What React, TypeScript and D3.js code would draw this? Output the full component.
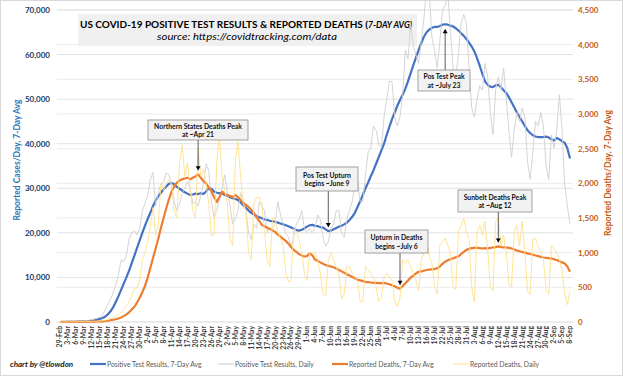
import React from "react";
import * as d3 from "d3";

// Day index 0 = 29-Feb-2020 ... 192 = 8-Sep-2020
const casesAvg: number[] = [
  3,
  10, 15, 25, 35, 45, 60, 80, 100, 130, 170, 220, 300, 400, 520, 700, 900, 1200, 1700, 2400, 3300, 4500, 5800, 7200, 8600, 10000, 11500, 13200, 14900, 16600, 18300, 20000,
  21600, 23100, 24500, 26000, 27200, 28200, 29000, 29800, 30400, 31000, 31200, 30900, 30300, 29900, 29500, 29100, 28800, 28500, 28600, 28800, 28700, 28900, 28700, 29300, 30000, 29900, 29300, 29000, 28900, 28900,
  28500, 28300, 28000, 27800, 27600, 27400, 26800, 26200, 25600, 25000, 24500, 24100, 23800, 23500, 23300, 23000, 22900, 22700, 22600, 22500, 22300, 22100, 21900, 21700, 21500, 21200, 20900, 20600, 20500, 20700, 21000,
  21400, 21700, 21800, 21600, 21500, 21300, 21200, 20800, 20400, 20500, 20800, 21100, 21400, 21600, 21900, 22300, 22900, 23600, 24500, 25800, 27100, 28500, 30000, 31300, 32700, 34000, 35500, 37000, 38500, 40000,
  42000, 43800, 45500, 47000, 48500, 49800, 51000, 52300, 54000, 55800, 57600, 59300, 61000, 62600, 64000, 65000, 65600, 66000, 66200, 66200, 66400, 66700, 66800, 66700, 66500, 66300, 65900, 65400, 64800, 64200, 63500,
  62700, 61800, 60700, 59200, 57500, 55700, 54000, 53200, 52800, 52700, 53100, 53200, 52700, 52000, 51400, 50400, 49300, 48200, 47000, 46000, 45000, 44000, 43000, 42400, 41900, 41600, 41500, 41500, 41500, 41600, 41400,
  41000, 40700, 41300, 41000, 40600, 40200, 39000, 36700,
];

const casesDaily: number[] = [
  5,
  10, 20, 30, 40, 60, 90, 110, 150, 250, 300, 400, 550, 700, 900, 1100, 1600, 2600, 4000, 5200, 6500, 8500, 10500, 14000, 13500, 15000, 18500, 20000, 20500, 19500, 21000, 25000,
  26500, 28500, 32000, 33500, 26000, 29000, 31000, 31500, 33500, 33000, 30500, 27000, 25000, 26500, 29000, 30000, 31500, 30000, 26500, 27000, 26000, 28500, 31000, 35500, 34000, 27000, 23500, 25000, 27500, 30000,
  33000, 29000, 26000, 22000, 23000, 25000, 29000, 27000, 25000, 20000, 18500, 22000, 21000, 27000, 26000, 25000, 20000, 21000, 21000, 22000, 27000, 24000, 22000, 20000, 19000, 17000, 19000, 22000, 23000, 25000, 21000,
  20000, 21000, 20000, 21000, 24000, 23000, 19000, 17000, 18000, 21000, 22000, 25000, 25000, 20000, 19000, 23000, 25000, 27000, 31000, 32000, 27000, 27000, 33000, 38000, 39000, 44000, 43000, 40000, 39000, 46000,
  50000, 54000, 54000, 46000, 44000, 46000, 51000, 61000, 59000, 67000, 62000, 60000, 58000, 63000, 68000, 75000, 74000, 64000, 61000, 57000, 63000, 70000, 71000, 74000, 65000, 57000, 55000, 60000, 67000, 69000, 67000,
  57000, 48000, 46000, 50000, 53000, 52000, 58000, 55000, 47000, 42000, 52000, 55000, 52000, 57000, 50000, 43000, 37000, 43000, 47000, 45000, 48000, 46000, 36000, 32000, 38000, 45000, 44000, 47000, 44000, 35000, 32000,
  42000, 39000, 43000, 51000, 43000, 31000, 26000, 22000,
];

const deathsAvg: number[] = [
  0,
  0, 0, 1, 1, 1, 2, 2, 2, 3, 3, 4, 5, 6, 7, 8, 10, 14, 18, 25, 32, 40, 50, 65, 85, 110, 140, 180, 220, 280, 350, 430,
  520, 640, 780, 920, 1060, 1200, 1360, 1500, 1640, 1770, 1880, 1960, 2010, 2040, 2060, 2070, 2080, 2060, 2080, 2100, 2130, 2080, 2030, 2000, 1940, 1890, 1800, 1730, 1800, 1880,
  1850, 1830, 1820, 1800, 1830, 1800, 1760, 1720, 1690, 1660, 1620, 1570, 1510, 1460, 1400, 1380, 1360, 1340, 1320, 1300, 1260, 1230, 1200, 1170, 1130, 1080, 1040, 1010, 980, 960, 945,
  950, 990, 960, 900, 880, 860, 840, 820, 810, 800, 790, 770, 750, 730, 710, 690, 670, 650, 630, 610, 600, 590, 580, 575, 570, 565, 565, 560, 560, 560,
  555, 545, 530, 515, 495, 480, 520, 560, 600, 640, 670, 700, 725, 730, 740, 750, 755, 760, 765, 775, 800, 840, 870, 890, 905, 920, 935, 945, 980, 1010, 1040,
  1055, 1065, 1070, 1070, 1065, 1060, 1065, 1060, 1070, 1075, 1080, 1090, 1080, 1075, 1075, 1070, 1060, 1045, 1030, 1020, 1010, 1000, 990, 980, 970, 960, 950, 940, 930, 925, 920,
  915, 905, 895, 875, 860, 845, 800, 725,
];

const deathsDaily: number[] = [
  0,
  0, 1, 2, 2, 3, 2, 3, 4, 6, 5, 8, 10, 10, 12, 15, 20, 25, 35, 50, 60, 80, 110, 140, 180, 240, 290, 370, 480, 490, 600, 900,
  1000, 1150, 1400, 1650, 1250, 1400, 2000, 1900, 2000, 2050, 2000, 1600, 1500, 2300, 2550, 2100, 2300, 1900, 1600, 1500, 2500, 2100, 2200, 2000, 1700, 1250, 1250, 2300, 2700, 2100,
  1900, 1700, 1200, 1100, 2300, 2600, 2100, 1700, 1600, 1000, 900, 1700, 1800, 1800, 1700, 1300, 900, 800, 1500, 1500, 1300, 1200, 1100, 700, 580, 600, 1350, 1300, 1200, 1000, 700,
  600, 1000, 1000, 1000, 900, 700, 400, 370, 900, 1000, 900, 800, 700, 330, 400, 800, 800, 700, 650, 600, 290, 300, 800, 750, 700, 650, 500, 300, 350, 650,
  700, 650, 600, 300, 220, 350, 900, 850, 900, 800, 700, 600, 450, 900, 1000, 1200, 950, 850, 500, 400, 1100, 1150, 1210, 1100, 1000, 500, 470, 1300, 1400, 1500, 1300,
  1200, 500, 290, 1300, 1400, 1250, 1450, 1050, 500, 450, 1450, 1500, 1100, 1250, 1000, 550, 500, 1300, 1400, 1100, 1450, 1000, 450, 400, 1200, 1200, 1100, 1000, 900, 450, 400,
  1100, 1050, 1000, 900, 750, 400, 250, 450,
];

const dateLabels: string[] = [
  "29-Feb", "3-Mar", "6-Mar", "9-Mar", "12-Mar", "15-Mar", "18-Mar", "21-Mar", "24-Mar", "27-Mar", "30-Mar",
  "2-Apr", "5-Apr", "8-Apr", "11-Apr", "14-Apr", "17-Apr", "20-Apr", "23-Apr", "26-Apr", "29-Apr",
  "2-May", "5-May", "8-May", "11-May", "14-May", "17-May", "20-May", "23-May", "26-May", "29-May",
  "1-Jun", "4-Jun", "7-Jun", "10-Jun", "13-Jun", "16-Jun", "19-Jun", "22-Jun", "25-Jun", "28-Jun",
  "1-Jul", "4-Jul", "7-Jul", "10-Jul", "13-Jul", "16-Jul", "19-Jul", "22-Jul", "25-Jul", "28-Jul", "31-Jul",
  "3-Aug", "6-Aug", "9-Aug", "12-Aug", "15-Aug", "18-Aug", "21-Aug", "24-Aug", "27-Aug", "30-Aug",
  "2-Sep", "5-Sep", "8-Sep",
];
const labelStep = 3;

const leftTicks: number[] = [0, 10000, 20000, 30000, 40000, 50000, 60000, 70000];
const rightTicks: number[] = [0, 500, 1000, 1500, 2000, 2500, 3000, 3500, 4000, 4500];

type Note = { lines: string[]; day: number; series: "cases" | "deaths"; box: [number, number, number, number]; up?: boolean };
const notes: Note[] = [
  { lines: ["Northern States Deaths Peak", "at ~Apr 21"], day: 52, series: "deaths", box: [148, 120, 100, 20] },
  { lines: ["Pos Test Upturn", "begins ~June 9"], day: 101, series: "cases", box: [296, 167, 62, 24] },
  { lines: ["Pos Test Peak", "at ~July 23"], day: 145, series: "cases", box: [418, 70, 52, 21], up: true },
  { lines: ["Upturn in Deaths", "begins ~July 6"], day: 128, series: "deaths", box: [365, 230, 63, 23] },
  { lines: ["Sunbelt Deaths Peak", "at ~Aug 12"], day: 165, series: "deaths", box: [458, 190, 74, 22] },
];

const legendItems = [
  { label: "Positive Test Results, 7-Day Avg", color: "#4472C4", w: 2.2, x: 90 },
  { label: "Positive Test Results, Daily", color: "#C9C9C9", w: 1, x: 218 },
  { label: "Reported Deaths, 7-Day Avg", color: "#ED7D31", w: 2.2, x: 332 },
  { label: "Reported Deaths, Daily", color: "#FFE08A", w: 1, x: 453 },
];

const FONT = "Lato, 'Open Sans', sans-serif";

export default function App() {
  const W = 623, H = 376;
  const x = d3.scaleLinear().domain([0, casesAvg.length - 1]).range([60, 570]);
  const yL = d3.scaleLinear().domain([0, 70000]).range([322, 10]);
  const yR = d3.scaleLinear().domain([0, 4500]).range([322, 10]);
  const lineL = d3.line<number>().x((_, i) => x(i)).y((d) => yL(d));
  const lineR = d3.line<number>().x((_, i) => x(i)).y((d) => yR(d));
  const fmt = d3.format(",");

  return (
    <svg width={W} height={H} style={{ position: "absolute", left: 0, top: 0, background: "#fff" }} fontFamily={FONT}>
      <rect x={0.5} y={0.5} width={W - 1} height={H - 1} fill="#fff" stroke="#d9d9d9" />
      {/* gridlines */}
      {leftTicks.map((t) => (
        <line key={"gl" + t} x1={57} x2={573} y1={yL(t)} y2={yL(t)} stroke="#d9d9d9" strokeWidth={0.8} />
      ))}
      {rightTicks.map((t) => (
        <line key={"gr" + t} x1={57} x2={573} y1={yR(t)} y2={yR(t)} stroke="#e6e6e6" strokeWidth={0.8} />
      ))}
      {/* title box */}
      <rect x={78} y={14} width={339} height={32} fill="#f0f0f0" />
      <text x={80} y={28} fontSize={10} fontWeight={700} fill="#000" textLength={288} lengthAdjust="spacingAndGlyphs">
        US COVID-19 POSITIVE TEST RESULTS &amp; REPORTED DEATHS (
      </text>
      <text x={368} y={28} fontSize={10} fontWeight={700} fontStyle="italic" fill="#000" textLength={44} lengthAdjust="spacingAndGlyphs">
        7-DAY AVG)
      </text>
      <text x={247} y={40} textAnchor="middle" fontSize={10} fontStyle="italic" fill="#000" textLength={180} lengthAdjust="spacingAndGlyphs">
        source: https://covidtracking.com/data
      </text>
      {/* series */}
      <path d={lineL(casesAvg) || ""} fill="none" stroke="#4472C4" strokeWidth={2.2} strokeLinejoin="round" />
      <path d={lineL(casesDaily) || ""} fill="none" stroke="#CFCFCF" strokeWidth={0.9} strokeLinejoin="round" />
      <path d={lineR(deathsAvg) || ""} fill="none" stroke="#ED7D31" strokeWidth={2.2} strokeLinejoin="round" />
      <path d={lineR(deathsDaily) || ""} fill="none" stroke="#FFE08A" strokeWidth={0.9} strokeLinejoin="round" />
      {/* left axis */}
      {leftTicks.map((t) => (
        <text key={"tl" + t} x={50} y={yL(t) + 3} textAnchor="end" fontSize={8} fontWeight={700} fill="#203864">
          {fmt(t)}
        </text>
      ))}
      {rightTicks.map((t) => (
        <text key={"tr" + t} x={578} y={yR(t) + 3} textAnchor="start" fontSize={8} fontWeight={700} fill="#C55A11">
          {fmt(t)}
        </text>
      ))}
      <text transform={`translate(17,${160}) rotate(-90)`} textAnchor="middle" fontSize={8.5} fontWeight={700} fill="#2E75B6" dy="0.35em">
        Reported Cases/Day, 7-Day Avg
      </text>
      <text transform={`translate(608,${173}) rotate(-90)`} textAnchor="middle" fontSize={8.5} fontWeight={700} fill="#C55A11" dy="0.35em">
        Reported Deaths/Day, 7-Day Avg
      </text>
      {/* x labels */}
      {dateLabels.map((lab, i) => (
        <text key={lab} transform={`translate(${x(i * labelStep)},326) rotate(-90)`} textAnchor="end" dy="0.35em" fontSize={6.8} fontWeight={700} fill="#404040">
          {lab}
        </text>
      ))}
      {/* annotations */}
      {notes.map((n) => {
        const [bx, by, bw, bh] = n.box;
        const px = x(n.day);
        const py = n.series === "cases" ? yL(casesAvg[n.day]) : yR(deathsAvg[n.day]);
        const tipY = n.up ? py + 5 : py - 4;
        const startY = n.up ? by : by + bh;
        return (
          <g key={n.lines[0]}>
            <line x1={px} x2={px} y1={startY} y2={tipY} stroke="#333" strokeWidth={0.8} />
            {n.up ? (
              <polygon points={`${px - 2.5},${tipY + 4} ${px + 2.5},${tipY + 4} ${px},${tipY}`} fill="#000" />
            ) : (
              <polygon points={`${px - 2.5},${tipY - 4} ${px + 2.5},${tipY - 4} ${px},${tipY}`} fill="#000" />
            )}
            <rect x={bx} y={by} width={bw} height={bh} fill="#f2f2f2" stroke="#8c8c8c" strokeWidth={0.8} />
            {n.lines.map((l, k) => (
              <text key={k} x={bx + bw / 2} y={by + bh / 2 + (k === 0 ? -1.5 : 7)} textAnchor="middle" fontSize={6.8} fontWeight={700} fill="#111">
                {l}
              </text>
            ))}
          </g>
        );
      })}
      {/* legend */}
      <text x={10} y={367} fontSize={8} fontWeight={700} fontStyle="italic" fill="#222">chart by @tlowdon</text>
      {legendItems.map((it) => (
        <g key={it.label}>
          <line x1={it.x} x2={it.x + 16} y1={364} y2={364} stroke={it.color} strokeWidth={it.w} />
          <text x={it.x + 17} y={366.5} fontSize={6.8} fill="#595959">{it.label}</text>
        </g>
      ))}
    </svg>
  );
}
